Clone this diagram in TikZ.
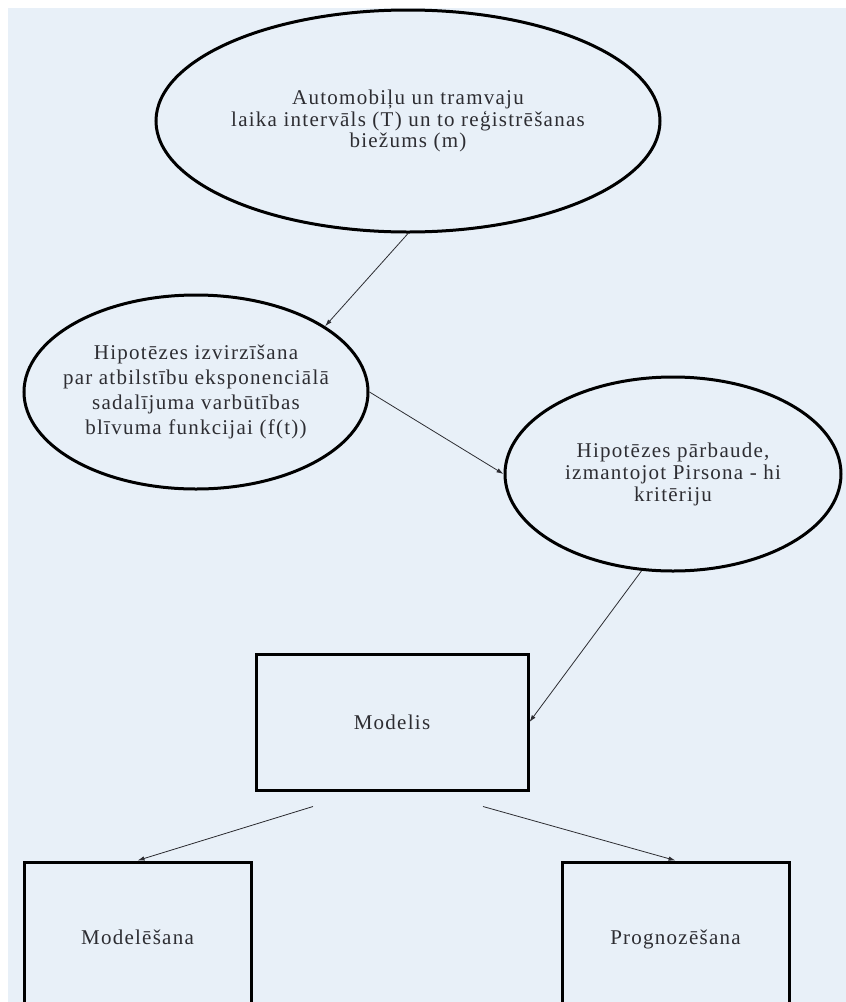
\documentclass[tikz,border=0pt]{standalone}
\usepackage{fontspec}
\newfontfamily\schemafont[LetterSpace=6]{Liberation Serif}
\usetikzlibrary{shapes.geometric,arrows.meta,calc}
\definecolor{paper}{RGB}{232,240,248}
\definecolor{ink}{RGB}{45,45,50}

\tikzset{
  oval/.style={ellipse, draw=black, line width=3pt, align=center, inner xsep=-20pt, inner ysep=0pt, text=ink},
  box/.style={rectangle, draw=black, line width=3pt, align=center, text=ink},
  flow/.style={-{Latex[length=7pt,width=4.5pt]}, draw=ink, line width=0.8pt}
}

\begin{document}
\begin{tikzpicture}[x=1pt,y=-1pt,font=\schemafont\fontsize{21}{21.5}\selectfont]
    \useasboundingbox (0,0) rectangle (846,1002);
    \clip (0,0) rectangle (846,1002);
    \fill[paper] (8,8) rectangle (846,1002);

    \node[oval, minimum width=504pt, minimum height=222pt] (auto) at (408,121)
        {Automobiļu un tramvaju\\laika intervāls (T) un to reģistrēšanas\\biežums (m)};
    \node[oval, minimum width=344pt, minimum height=194pt,
          font=\schemafont\fontsize{21}{25}\selectfont] (hyp) at (196,392)
        {Hipotēzes izvirzīšana\\par atbilstību eksponenciālā\\sadalījuma varbūtības\\blīvuma funkcijai (f(t))};
    \node[oval, minimum width=336pt, minimum height=194pt,
          font=\schemafont\fontsize{21}{22}\selectfont] (test) at (673,474)
        {Hipotēzes pārbaude,\\izmantojot Pirsona - hi\\kritēriju};

    \node[box, minimum width=272pt, minimum height=136pt] (modelis) at (392,722) {Modelis};
    \node[box, minimum width=227pt, minimum height=160pt] (modelesana) at (137.5,942)
        {\raisebox{10pt}{Modelēšana}};
    \node[box, minimum width=227pt, minimum height=160pt] (prog) at (675.5,942)
        {\raisebox{10pt}{Prognozēšana}};

    \draw[flow] (auto.south) -- (hyp.27);
    \draw[flow] (hyp.east) -- (test.west);
    \draw[flow] (test.252) -- (modelis.east);
    \draw[flow] ($(modelis.south)+(-79,15)$) -- (modelesana.north);
    \draw[flow] ($(modelis.south)+(91,15)$) -- (prog.north);
\end{tikzpicture}
\end{document}
